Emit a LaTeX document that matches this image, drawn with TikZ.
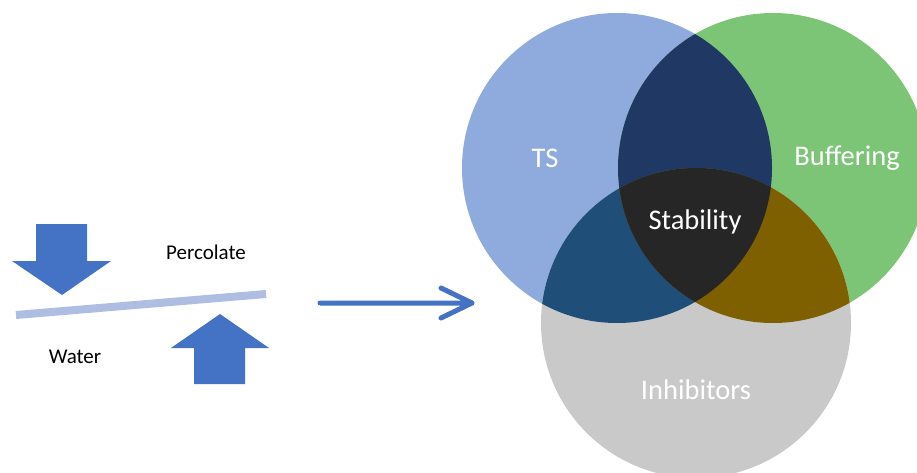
\documentclass[tikz,border=0pt]{standalone}
\usepackage{fontspec}
\setmainfont{Carlito}
\usetikzlibrary{calc}

\definecolor{arrowblue}{HTML}{4472C4}
\definecolor{barblue}{HTML}{B0BDE3}
\definecolor{tsblue}{HTML}{8FAADC}
\definecolor{bufgreen}{HTML}{7DC576}
\definecolor{inhgrey}{HTML}{C9C9C9}
\definecolor{tsbuf}{HTML}{203864}
\definecolor{tsinh}{HTML}{1F4E79}
\definecolor{bufinh}{HTML}{7F6000}
\definecolor{allthree}{HTML}{262626}

\begin{document}
\begin{tikzpicture}[x=1pt, y=1pt,
    vlabel/.style={text=white, font=\fontsize{28.5}{34}\selectfont},
    slabel/.style={text=black, font=\fontsize{21}{25}\selectfont}]
      \useasboundingbox (0,0) rectangle (917,-473);

      %% left: water percolating through a layer
      \fill[arrowblue] (36,-224) -- (87,-224) -- (87,-261) -- (111,-261)
            -- (62,-295) -- (12,-261) -- (36,-261) -- cycle;
      \fill[arrowblue] (194,-384) -- (245,-384) -- (245,-348) -- (269,-348)
            -- (220,-314) -- (171,-348) -- (194,-348) -- cycle;
      \draw[line width=8pt, barblue] (16,-315) -- (266,-294);
      \node[slabel] (perc) at (206,-252) {Percolate};
      \node[slabel] (water) at (75,-357) {Water};

      %% arrow over to the venn
      \coordinate (from) at (320,-303);
      \coordinate (to) at (472,-303);
      \draw[line width=5pt, arrowblue, line cap=round, line join=round]
            (from) -- (to) ($(to)+(-31,15)$) -- (to) -- ($(to)+(-31,-15)$);

      %% venn circles
      \coordinate (ts) at (617,-168);
      \coordinate (buf) at (773,-168);
      \coordinate (inh) at (696,-323);
      \fill[tsblue] (ts) circle (155);
      \fill[bufgreen] (buf) circle (155);
      \fill[inhgrey] (inh) circle (155);
      \begin{scope}
        \clip (ts) circle (155);
        \fill[tsbuf] (buf) circle (155);
        \fill[tsinh] (inh) circle (155);
      \end{scope}
      \begin{scope}
        \clip (buf) circle (155);
        \fill[bufinh] (inh) circle (155);
        \clip (inh) circle (155);
        \fill[allthree] (ts) circle (155);
      \end{scope}

      \node[vlabel] (tslabel) at (545,-158) {TS};
      \node[vlabel] (buflabel) at (847,-158) {Buffering};
      \node[vlabel] (stab) at (695,-222) {Stability};
      \node[vlabel] (inhlabel) at (696,-390) {Inhibitors};

\end{tikzpicture}
\end{document}
